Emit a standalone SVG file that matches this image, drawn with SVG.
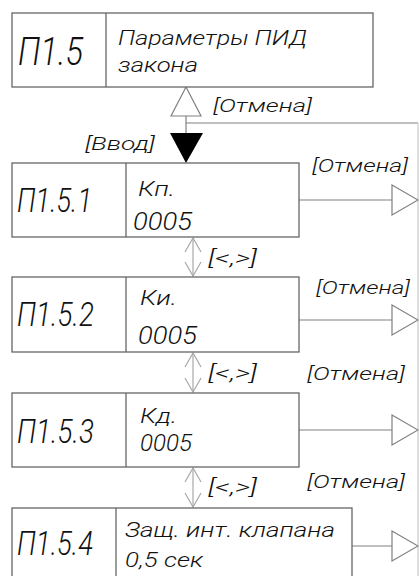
<svg xmlns="http://www.w3.org/2000/svg" width="419" height="576" viewBox="0 0 419 576">
<style>
.box{fill:#fff;stroke:#666;stroke-width:1.3}
.div{stroke:#666;stroke-width:1.3}
.t{font-family:Roboto,"Liberation Sans",Arial,sans-serif;font-style:italic;font-weight:300;fill:#111}
.ln{stroke:#808080;stroke-width:1.2;fill:none}
.lt{stroke:#c8c8c8;stroke-width:1.2;fill:none}
.tri{fill:#fff;stroke:#808080;stroke-width:1.2}
.dbl{stroke:#a8a8a8;stroke-width:1.2;fill:none}
</style>
<rect width="419" height="576" fill="#fff"/>
<g id="connectors">
  <line class="ln" x1="186" y1="116" x2="186" y2="133"/>
  <polyline class="ln" points="186,123 418,123"/>
  <line class="lt" x1="418" y1="123" x2="418" y2="576"/>
  <polygon class="tri" points="186,87 171,116 201,116"/>
  <polygon points="170,133 203,133 186,163" fill="#000"/>
  <text class="t" x="213" y="112" font-size="19" textLength="99" lengthAdjust="spacingAndGlyphs">[Отмена]</text>
  <text class="t" x="85" y="150" font-size="19" textLength="70" lengthAdjust="spacingAndGlyphs">[Ввод]</text>

  <line class="ln" x1="299" y1="200" x2="392" y2="200"/>
  <polygon class="tri" points="392,185 418,200 392,215"/>
  <text class="t" x="312" y="172" font-size="19" textLength="96" lengthAdjust="spacingAndGlyphs">[Отмена]</text>

  <line class="ln" x1="299" y1="320" x2="392" y2="320"/>
  <polygon class="tri" points="392,305 418,320 392,335"/>
  <text class="t" x="316" y="294" font-size="19" textLength="94" lengthAdjust="spacingAndGlyphs">[Отмена]</text>

  <line class="ln" x1="299" y1="430" x2="392" y2="430"/>
  <polygon class="tri" points="392,415 418,430 392,445"/>
  <text class="t" x="307" y="380" font-size="19" textLength="98" lengthAdjust="spacingAndGlyphs">[Отмена]</text>

  <line class="ln" x1="352" y1="546" x2="392" y2="546"/>
  <polygon class="tri" points="392,531 418,546 392,561"/>
  <text class="t" x="307" y="488" font-size="19" textLength="98" lengthAdjust="spacingAndGlyphs">[Отмена]</text>

  <g class="dbl">
    <line x1="193" y1="238" x2="193" y2="276"/>
    <polyline points="185,252 193,238 201,252"/>
    <polyline points="185,262 193,276 201,262"/>
    <line x1="193" y1="353" x2="193" y2="392"/>
    <polyline points="185,367 193,353 201,367"/>
    <polyline points="185,378 193,392 201,378"/>
    <line x1="193" y1="468" x2="193" y2="507"/>
    <polyline points="185,482 193,468 201,482"/>
    <polyline points="185,493 193,507 201,493"/>
  </g>
  <text class="t" x="208" y="265" font-size="20" textLength="49" lengthAdjust="spacingAndGlyphs">[&lt;,&gt;]</text>
  <text class="t" x="208" y="380" font-size="20" textLength="49" lengthAdjust="spacingAndGlyphs">[&lt;,&gt;]</text>
  <text class="t" x="208" y="494" font-size="20" textLength="49" lengthAdjust="spacingAndGlyphs">[&lt;,&gt;]</text>
</g>
<g id="p1_5">
  <rect class="box" x="12" y="13" width="361" height="74"/>
  <line class="div" x1="106" y1="13" x2="106" y2="87"/>
  <text class="t" x="18" y="65" font-size="39" textLength="65" lengthAdjust="spacingAndGlyphs">П1.5</text>
  <text class="t" x="118" y="45" font-size="21" textLength="189" lengthAdjust="spacingAndGlyphs">Параметры ПИД</text>
  <text class="t" x="118" y="72" font-size="21" textLength="80" lengthAdjust="spacingAndGlyphs">закона</text>
</g>
<g id="p1_5_1">
  <rect class="box" x="12" y="163" width="287" height="74"/>
  <line class="div" x1="126" y1="163" x2="126" y2="237"/>
  <text class="t" x="17" y="212" font-size="33" textLength="75" lengthAdjust="spacingAndGlyphs">П1.5.1</text>
  <text class="t" x="138" y="196" font-size="21" textLength="37" lengthAdjust="spacingAndGlyphs">Кп.</text>
  <text class="t" x="133" y="230" font-size="25" textLength="59" lengthAdjust="spacingAndGlyphs">0005</text>
</g>
<g id="p1_5_2">
  <rect class="box" x="12" y="277" width="287" height="75"/>
  <line class="div" x1="126" y1="277" x2="126" y2="352"/>
  <text class="t" x="17" y="326" font-size="33" textLength="77" lengthAdjust="spacingAndGlyphs">П1.5.2</text>
  <text class="t" x="140" y="305" font-size="21" textLength="37" lengthAdjust="spacingAndGlyphs">Ки.</text>
  <text class="t" x="138" y="344" font-size="25" textLength="59" lengthAdjust="spacingAndGlyphs">0005</text>
</g>
<g id="p1_5_3">
  <rect class="box" x="12" y="393" width="287" height="74"/>
  <line class="div" x1="126" y1="393" x2="126" y2="467"/>
  <text class="t" x="17" y="443" font-size="33" textLength="77" lengthAdjust="spacingAndGlyphs">П1.5.3</text>
  <text class="t" x="140" y="423" font-size="21" textLength="37" lengthAdjust="spacingAndGlyphs">Кд.</text>
  <text class="t" x="140" y="451" font-size="23" textLength="52" lengthAdjust="spacingAndGlyphs">0005</text>
</g>
<g id="p1_5_4">
  <rect class="box" x="12" y="508" width="340" height="90"/>
  <line class="div" x1="116" y1="508" x2="116" y2="598"/>
  <text class="t" x="17" y="555" font-size="33" textLength="76" lengthAdjust="spacingAndGlyphs">П1.5.4</text>
  <text class="t" x="125" y="537" font-size="21" textLength="210" lengthAdjust="spacingAndGlyphs">Защ. инт. клапана</text>
  <text class="t" x="125" y="567" font-size="21" textLength="78" lengthAdjust="spacingAndGlyphs">0,5 сек</text>
</g>
</svg>
